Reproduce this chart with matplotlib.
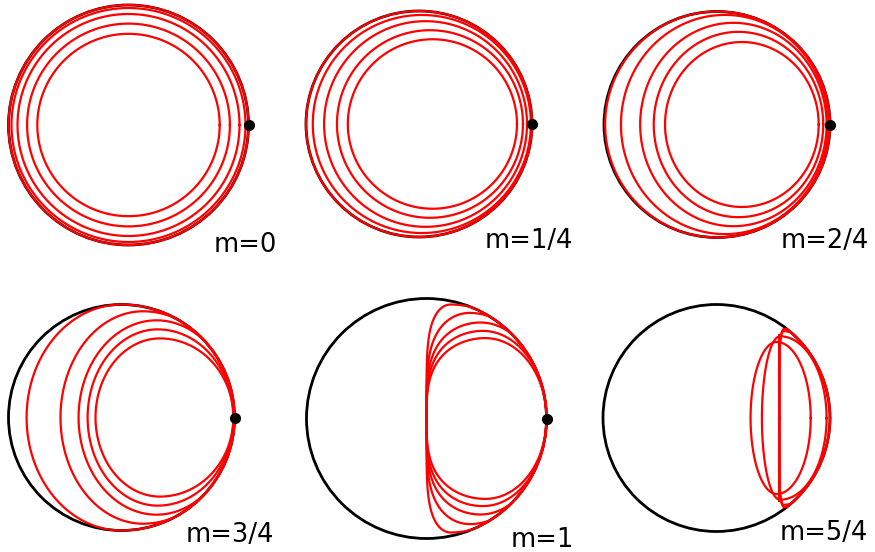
import numpy as np
import matplotlib
matplotlib.use("Agg")
import matplotlib.pyplot as plt
from matplotlib.patches import Circle

# labels of the six panels
labels = ["m=0", "m=1/4", "m=2/4", "m=3/4", "m=1", "m=5/4"]
has_dot = [True, True, True, True, True, False]

# red curves, one row per panel, 5 curves each (unit circle coordinates)
# left edge, x of the top point, right edge, half height, flatness of left side
left_edge = [
    [-0.76, -0.845, -0.925, -0.975, -1.0],
    [-0.63, -0.726, -0.84, -0.94, -1.0],
    [-0.46, -0.56, -0.68, -0.85, -0.99],
    [-0.23, -0.30, -0.38, -0.54, -0.84],
    [0.0, 0.0, 0.0, 0.0, 0.0],
    [0.30, 0.40, 0.553, 0.553, 0.553],
]
top_x = [
    [0.0, 0.0, 0.0, 0.0, 0.0],
    [0.12, 0.097, 0.058, 0.025, 0.0],
    [0.22, 0.19, 0.145, 0.07, 0.0],
    [0.34, 0.32, 0.31, 0.19, 0.0],
    [0.20, 0.36, 0.45, 0.47, 0.49],
    [0.53, 0.56, 0.553, 0.59, 0.595],
]
right_edge = [
    [0.76, 0.845, 0.925, 0.975, 1.0],
    [0.867, 0.92, 0.956, 0.99, 1.0],
    [0.90, 0.94, 0.97, 0.985, 1.0],
    [0.99, 0.99, 1.0, 1.0, 1.0],
    [1.0, 1.0, 1.0, 1.0, 1.0],
    [0.83, 0.97, 0.553, 1.0, 1.0],
]
half_h = [
    [0.76, 0.845, 0.925, 0.975, 1.0],
    [0.75, 0.83, 0.91, 0.965, 1.0],
    [0.73, 0.82, 0.90, 0.97, 1.0],
    [0.70, 0.78, 0.86, 0.94, 1.0],
    [0.95, 0.88, 0.80, 0.73, 0.67],
    [0.67, 0.72, 0.73, 0.765, 0.785],
]
flat = [
    [1, 1, 1, 1, 1],
    [1, 1, 1, 1, 1],
    [1, 1, 1, 1, 1],
    [1, 1, 1, 1, 1],
    [0.4, 0.5, 0.55, 0.6, 0.65],
    [1, 1, 1, 0.3, 0.3],
]

# where the panels sit in the picture (pixels): centre x, centre y, radius
panel_px = [(128.5, 125, 120), (419, 124, 113), (717, 124.5, 113),
            (121.5, 417.5, 113), (426.5, 418.5, 120), (716.5, 418, 113.5)]
label_px = [(214, 251.5), (485, 248), (781, 248), (186, 541.5), (511, 547), (780, 540.5)]

W, H = 875, 552
fig = plt.figure(figsize=(W / 100, H / 100), dpi=100)

t = np.linspace(0, 2 * np.pi, 1441)
c = np.cos(t)
s = np.sin(t)

for k in range(6):
    cx, cy, r = panel_px[k]
    ax = fig.add_axes([(cx - 1.1 * r) / W, (H - cy - 1.1 * r) / H, 2.2 * r / W, 2.2 * r / H])
    ax.set_xlim(-1.1, 1.1)
    ax.set_ylim(-1.1, 1.1)
    ax.axis("off")

    ax.add_patch(Circle((0, 0), 1, fill=False, color="black", lw=2.0, zorder=1))

    for L, A, R, b, q in zip(left_edge[k], top_x[k], right_edge[k], half_h[k], flat[k]):
        x = np.where(c >= 0, A + (R - A) * c, A - (A - L) * np.abs(c))
        y = np.where(c >= 0, b * s, b * np.sign(s) * np.abs(s) ** q)
        rr = np.hypot(x, y)
        f = np.where(rr > 1, 1 / np.maximum(rr, 1e-9), 1)
        ax.plot(x * f, y * f, color="#ff0000", lw=1.6, zorder=2)

    if has_dot[k]:
        ax.plot([1], [0], "o", color="black", ms=7, zorder=5)

    lx, ly = label_px[k]
    fig.text(lx / W, 1 - ly / H, labels[k], fontsize=18.5, ha="left", va="baseline",
             family="DejaVu Sans")

plt.savefig("out.png", dpi=100)
